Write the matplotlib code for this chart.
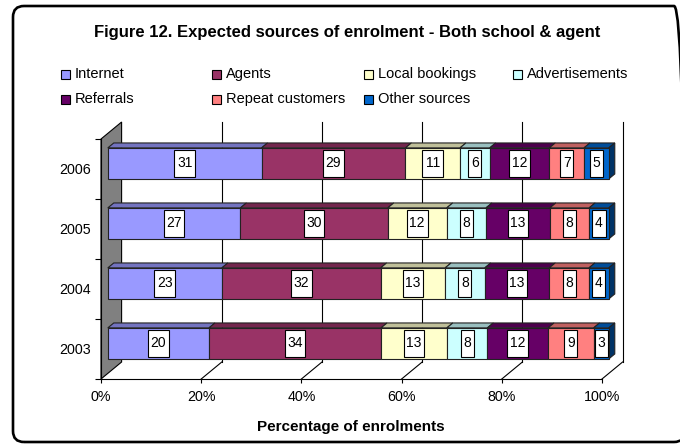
import matplotlib.pyplot as plt
from matplotlib.patches import Polygon, Rectangle, FancyBboxPatch
from matplotlib.transforms import IdentityTransform
from matplotlib.colors import to_rgb

plt.rcParams['font.family'] = ['Liberation Sans', 'DejaVu Sans']

years = ['2003', '2004', '2005', '2006']
sources = ['Internet', 'Agents', 'Local bookings', 'Advertisements',
           'Referrals', 'Repeat customers', 'Other sources']
colors = ['#9999FF', '#993366', '#FFFFCC', '#CCFFFF',
          '#660066', '#FF8080', '#0066CC']

internet = [20, 23, 27, 31]
agents = [34, 32, 30, 29]
local_bookings = [13, 13, 12, 11]
advertisements = [8, 8, 8, 6]
referrals = [12, 13, 13, 12]
repeat_customers = [9, 8, 8, 7]
other_sources = [3, 4, 4, 5]

series = [internet, agents, local_bookings, advertisements,
          referrals, repeat_customers, other_sources]

W, H = 680, 445
fig = plt.figure(figsize=(W / 100, H / 100), dpi=100)

# front plane of the 3d box
ax = fig.add_axes([101 / W, (H - 379) / H, 501 / W, 240 / H])
ax.set_xlim(0, 100)
ax.set_ylim(0, 4)
px_x = 501 / 100   # pixels per percent
px_y = 240 / 4     # pixels per category

DX, DY = 20.6 / px_x, 17 / px_y     # depth of the box
T0, T1 = 0.33, 0.62                 # bar depth range
BH = 31 / px_y                      # bar thickness


def shade(c, f):
    r, g, b = to_rgb(c)
    return (r * f, g * f, b * f)


# side wall
ax.add_patch(Polygon([(0, 0), (0, 4), (DX, 4 + DY), (DX, DY)], closed=True,
                     facecolor='#808080', edgecolor='#000000', lw=0.8,
                     clip_on=False, zorder=1))
# back wall gridlines and floor
for v in range(20, 101, 20):
    ax.plot([v + DX, v + DX], [DY, 4 + DY], color='#000000', lw=0.8,
            clip_on=False, zorder=1)
    ax.plot([v, v + DX], [0, DY], color='#000000', lw=0.8,
            clip_on=False, zorder=1)

ec = '#222222'
for i, year in enumerate(years):
    vals = [s[i] for s in series]
    total = sum(vals)
    ybot = i + 0.5 - BH / 2 + T0 * DY
    ytop = ybot + BH
    dd = (T1 - T0) * DY
    left = 0.0
    for k, v in enumerate(vals):
        w = v / total * 100
        a, b = left, left + w
        x0, x1 = a + T0 * DX, b + T0 * DX
        ax.add_patch(Polygon([(x0, ytop), (x1, ytop),
                              (b + T1 * DX, ytop + dd), (a + T1 * DX, ytop + dd)],
                             closed=True, facecolor=shade(colors[k], 0.75),
                             edgecolor=ec, lw=0.8, clip_on=False, zorder=3))
        ax.add_patch(Rectangle((x0, ybot), w, BH, facecolor=colors[k],
                               edgecolor=ec, lw=0.8, clip_on=False, zorder=4))
        if k == len(vals) - 1:
            ax.add_patch(Polygon([(x1, ybot), (x1, ytop),
                                  (b + T1 * DX, ytop + dd), (b + T1 * DX, ybot + dd)],
                                 closed=True, facecolor=shade(colors[k], 0.5),
                                 edgecolor=ec, lw=0.8, clip_on=False, zorder=3))
        # value label in a white box
        cx = (x0 + x1) / 2
        cy = (ybot + ytop) / 2
        txt = str(v)
        bw = (7.6 * len(txt) + 5.5) / px_x
        bh = 27 / px_y
        ax.add_patch(Rectangle((cx - bw / 2, cy - bh / 2), bw, bh,
                               facecolor='white', edgecolor='#000000', lw=0.8,
                               clip_on=False, zorder=5))
        ax.text(cx, cy, txt, ha='center', va='center', fontsize=10,
                color='#000000', zorder=6)
        left = b

for s in ['top', 'right']:
    ax.spines[s].set_visible(False)
for s in ['left', 'bottom']:
    ax.spines[s].set_linewidth(0.8)
    ax.spines[s].set_zorder(2)

ax.set_xticks(range(0, 101, 20))
ax.set_xticklabels([f'{v}%' for v in range(0, 101, 20)], fontsize=10.3)
ax.tick_params(axis='x', length=3, width=0.8, pad=5)
ax.set_yticks([0.5, 1.5, 2.5, 3.5])
ax.set_yticklabels(years, fontsize=10.3)
ax.set_yticks(range(5), minor=True)
ax.tick_params(axis='y', which='major', length=0, pad=7)
ax.tick_params(axis='y', which='minor', length=4, width=0.8)
ax.set_facecolor('none')

fig.text(351 / W, 1 - 427 / H, 'Percentage of enrolments', ha='center',
         va='center', fontsize=11, fontweight='bold')
fig.text(347 / W, 1 - 33 / H, 'Figure 12. Expected sources of enrolment - Both school & agent',
         ha='center', va='center', fontsize=12, fontweight='bold')

# legend laid out in rows
legend_pos = [(61, 74), (212, 74), (364, 74), (513, 74),
              (61, 99), (212, 99), (364, 99)]
for (lx, ly), name, c in zip(legend_pos, sources, colors):
    fig.patches.append(Rectangle((lx, H - ly - 4.5), 9, 9, facecolor=c,
                                 edgecolor='#000000', lw=0.8,
                                 transform=IdentityTransform(), figure=fig))
    fig.text((lx + 14) / W, 1 - ly / H, name, ha='left', va='center',
             fontsize=10.5)

# rounded chart border
fig.patches.append(FancyBboxPatch((13, 3), 672, 436,
                                  boxstyle='round,pad=0,rounding_size=11',
                                  facecolor='none', edgecolor='#000000', lw=1.9,
                                  transform=IdentityTransform(), figure=fig))

fig.savefig('out.png', dpi=100)
